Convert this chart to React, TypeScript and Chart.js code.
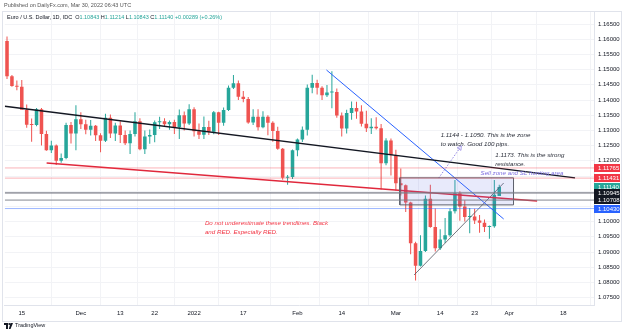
import React, { useEffect, useRef } from 'react';
import { Chart, registerables } from 'chart.js';

Chart.register(...registerables);

const FONT = '"Liberation Sans", Arial, Helvetica, sans-serif';
const UP = '#26a69a';
const DOWN = '#ef5350';

// EUR/USD daily sessions from 10 Nov 2021 to 30 Mar 2022; x = session number
const opens = [
  1.1594, 1.1478, 1.1446, 1.1444, 1.1368, 1.1319, 1.1318, 1.1370, 1.1288, 1.1235,
  1.1250, 1.1200, 1.1209, 1.1318, 1.1290, 1.1337, 1.1320, 1.1302, 1.1315, 1.1284,
  1.1266, 1.1342, 1.1290, 1.1316, 1.1285, 1.1258, 1.1288, 1.1330, 1.1238, 1.1280,
  1.1285, 1.1327, 1.1330, 1.1320, 1.1328, 1.1310, 1.1350, 1.1323, 1.1370, 1.1297,
  1.1286, 1.1311, 1.1296, 1.1360, 1.1325, 1.1367, 1.1440, 1.1455, 1.1411, 1.1403,
  1.1326, 1.1345, 1.1310, 1.1345, 1.1325, 1.1298, 1.1240, 1.1144, 1.1147, 1.1235,
  1.1270, 1.1302, 1.1440, 1.1456, 1.1440, 1.1416, 1.1425, 1.1426, 1.1349, 1.1306,
  1.1357, 1.1374, 1.1362, 1.1322, 1.1307, 1.1312, 1.1307, 1.1192, 1.1267, 1.1219,
  1.1126, 1.1120, 1.1063, 1.0929, 1.0855, 1.0903, 1.1075, 1.0982, 1.0912, 1.0941,
  1.0955, 1.1034, 1.1093, 1.1050, 1.1015, 1.1017, 1.1004, 1.0996, 1.0982, 1.0985,
  1.10843,
];
const highs = [
  1.1609, 1.1482, 1.1464, 1.1466, 1.1385, 1.1339, 1.1374, 1.1374, 1.1299, 1.1266,
  1.1254, 1.1224, 1.1325, 1.1328, 1.1383, 1.1360, 1.1335, 1.1334, 1.1318, 1.1291,
  1.1355, 1.1352, 1.1325, 1.1330, 1.1300, 1.1300, 1.1360, 1.1340, 1.1300, 1.1303,
  1.1333, 1.1345, 1.1340, 1.1333, 1.1335, 1.1369, 1.1362, 1.1386, 1.1376, 1.1323,
  1.1346, 1.1332, 1.1364, 1.1361, 1.1375, 1.1448, 1.1482, 1.1464, 1.1430, 1.1410,
  1.1370, 1.1370, 1.1363, 1.1350, 1.1330, 1.1312, 1.1242, 1.1153, 1.1237, 1.1273,
  1.1313, 1.1451, 1.1483, 1.1467, 1.1445, 1.1449, 1.1495, 1.1438, 1.1359, 1.1368,
  1.1395, 1.1394, 1.1383, 1.1365, 1.1340, 1.1343, 1.1321, 1.1274, 1.1273, 1.1236,
  1.1175, 1.1122, 1.1065, 1.0934, 1.0955, 1.1086, 1.1121, 1.1043, 1.0975, 1.1012,
  1.1043, 1.1137, 1.1100, 1.1070, 1.1045, 1.1042, 1.1022, 1.1007, 1.0987, 1.1137,
  1.11214,
];
const lows = [
  1.1469, 1.1444, 1.1432, 1.1372, 1.1309, 1.1263, 1.1314, 1.1250, 1.1233, 1.1226,
  1.1186, 1.1194, 1.1205, 1.1257, 1.1235, 1.1305, 1.1287, 1.1283, 1.1265, 1.1228,
  1.1262, 1.1275, 1.1265, 1.1259, 1.1252, 1.1222, 1.1280, 1.1235, 1.1222, 1.1256,
  1.1261, 1.1305, 1.1314, 1.1302, 1.1288, 1.1272, 1.1300, 1.1318, 1.1280, 1.1272,
  1.1272, 1.1285, 1.1287, 1.1285, 1.1315, 1.1364, 1.1436, 1.1400, 1.1393, 1.1322,
  1.1318, 1.1300, 1.1307, 1.1284, 1.1263, 1.1236, 1.1138, 1.1121, 1.1140, 1.1215,
  1.1262, 1.1283, 1.1422, 1.1418, 1.1400, 1.1410, 1.1373, 1.1342, 1.1280, 1.1290,
  1.1335, 1.1338, 1.1313, 1.1295, 1.1288, 1.1303, 1.1106, 1.1185, 1.1152, 1.1102,
  1.1086, 1.1032, 1.0893, 1.0806, 1.0852, 1.0900, 1.0980, 1.0902, 1.0907, 1.0930,
  1.0950, 1.1027, 1.1003, 1.1000, 1.0962, 1.0992, 1.0963, 1.0966, 1.0944, 1.0980,
  1.10843,
];
const closes = [
  1.1478, 1.1446, 1.1444, 1.1368, 1.1319, 1.1318, 1.1370, 1.1288, 1.1235, 1.1250,
  1.1200, 1.1209, 1.1318, 1.1290, 1.1337, 1.1320, 1.1302, 1.1315, 1.1284, 1.1266,
  1.1342, 1.1290, 1.1316, 1.1285, 1.1258, 1.1288, 1.1330, 1.1238, 1.1280, 1.1285,
  1.1327, 1.1330, 1.1320, 1.1328, 1.1310, 1.1350, 1.1323, 1.1370, 1.1297, 1.1286,
  1.1311, 1.1296, 1.1360, 1.1325, 1.1367, 1.1440, 1.1455, 1.1411, 1.1403, 1.1326,
  1.1345, 1.1310, 1.1345, 1.1325, 1.1298, 1.1240, 1.1144, 1.1147, 1.1235, 1.1270,
  1.1302, 1.1440, 1.1456, 1.1440, 1.1416, 1.1425, 1.1426, 1.1349, 1.1306, 1.1357,
  1.1374, 1.1362, 1.1322, 1.1307, 1.1312, 1.1307, 1.1192, 1.1267, 1.1219, 1.1126,
  1.1120, 1.1063, 1.0929, 1.0855, 1.0903, 1.1075, 1.0982, 1.0912, 1.0941, 1.0955,
  1.1034, 1.1093, 1.1050, 1.1015, 1.1017, 1.1004, 1.0996, 1.0982, 1.0985, 1.1088,
  1.11140,
];

// Time axis: session numbers and their labels (future sessions continue the count)
const timeTickIndex = [3, 15, 23, 30, 38, 48, 59, 68, 79, 88, 95, 102, 113];
const timeTickText = ['15', 'Dec', '13', '22', '2022', '17', 'Feb', '14', 'Mar', '14', '23', 'Apr', '18'];

// Price axis ticks
const priceTicks = [
  1.075, 1.08, 1.085, 1.09, 1.095, 1.1, 1.105, 1.11, 1.115, 1.12,
  1.125, 1.13, 1.135, 1.14, 1.145, 1.15, 1.155, 1.16, 1.165,
];

// Horizontal price levels with their axis labels
const levelPrices = [1.11765, 1.11431, 1.10945, 1.10708, 1.1043];
const levelColors = ['rgba(242,54,69,0.38)', 'rgba(242,54,69,0.38)', 'rgba(120,123,134,0.7)', 'rgba(120,123,134,0.9)', 'rgba(41,98,255,0.45)'];
const levelWidths = [1, 1, 1.6, 1, 1];
const markerPrices = [1.11765, 1.11431, 1.1114, 1.10945, 1.10708, 1.1043];
const markerColors = ['#f23645', '#f23645', '#26a69a', '#131722', '#131722', '#2962ff'];

// Drawn trendlines: [session, price] end points
const blackTrend = [[-0.45, 1.13794], [115.4, 1.11438]];
const redTrend = [[8.05, 1.11928], [107.7, 1.10678]];
const blueTrend = [[64.9, 1.14987], [100.9, 1.10086]];
const risingTrend = [[82.7, 1.08244], [100.9, 1.1127]];
const arrowPath = [[87.7, 1.11434], [92.0, 1.12421]];

// Watch zone: sessions and price bounds
const zoneSessions = [79.8, 102.9];
const zonePrices = [1.1055, 1.1144];

const X_MIN = -0.45;
const X_MAX = 119.25;
const Y_MIN = 1.07257;
const Y_MAX = 1.16928;

type Note = { text: string; at: [number, number]; color: string };
const notes: Note[] = [
  { text: '1.1144 - 1.1050. This is the zone', at: [88.1, 1.12849], color: '#2a2e39' },
  { text: 'to watch. Good 100 pips.', at: [88.1, 1.12555], color: '#2a2e39' },
  { text: '1.1173. This is the strong', at: [99.2, 1.12191], color: '#2a2e39' },
  { text: 'resistance.', at: [99.2, 1.11895], color: '#2a2e39' },
  { text: 'Sell zone and SL hunting area', at: [96.2, 1.11582], color: '#7e6fe0' },
  { text: 'Do not underestimate these trendlines. Black', at: [40.2, 1.09954], color: '#f23645' },
  { text: 'and RED. Especially RED.', at: [40.2, 1.09658], color: '#f23645' },
];

const toPoints = (pts: number[][]) => pts.map(([x, y]) => ({ x, y }));

const framePlugin = {
  id: 'frame',
  beforeDraw(chart: any) {
    const { ctx, width, height } = chart;
    ctx.save();
    ctx.fillStyle = '#ffffff';
    ctx.fillRect(0, 0, width, height);
    ctx.restore();
  },
  afterDraw(chart: any) {
    const { ctx, chartArea, scales } = chart;
    const y = scales.y;
    const x = scales.x;
    ctx.save();
    // price markers on the axis
    ctx.font = `6px ${FONT}`;
    ctx.textBaseline = 'middle';
    markerPrices.forEach((p, i) => {
      const py = y.getPixelForValue(p);
      ctx.fillStyle = markerColors[i];
      ctx.fillRect(chartArea.right, Math.round(py) - 4, 26, 8);
      ctx.fillStyle = '#ffffff';
      ctx.fillText(p.toFixed(5), chartArea.right + 4, Math.round(py));
    });
    // outer frame
    ctx.strokeStyle = '#e0e3eb';
    ctx.lineWidth = 1;
    ctx.strokeRect(2.5, chartArea.top + 0.5, y.right - 2, x.bottom - chartArea.top);
    ctx.restore();
  },
};

const notesPlugin = {
  id: 'notes',
  afterDatasetsDraw(chart: any) {
    const { ctx, scales } = chart;
    ctx.save();
    ctx.textBaseline = 'middle';
    ctx.font = `italic 6.2px ${FONT}`;
    for (const n of notes) {
      ctx.fillStyle = n.color;
      ctx.fillText(n.text, scales.x.getPixelForValue(n.at[0]), scales.y.getPixelForValue(n.at[1]));
    }
    ctx.restore();
  },
};

function CandleChart() {
  const ref = useRef<HTMLCanvasElement | null>(null);

  useEffect(() => {
    if (!ref.current) return;
    const colors = closes.map((c, i) => (c >= opens[i] ? UP : DOWN));

    const lineSet = (pts: number[][], color: string, width: number, extra: any = {}) => ({
      type: 'line' as const,
      data: toPoints(pts),
      borderColor: color,
      borderWidth: width,
      pointRadius: 0,
      tension: 0,
      fill: false,
      order: 1,
      ...extra,
    });

    const datasets: any[] = [
      {
        type: 'bar',
        data: opens.map((o, i) => ({ x: i, y: [lows[i], highs[i]] })),
        backgroundColor: colors,
        grouped: false,
        maxBarThickness: 1,
        order: 6,
      },
      {
        type: 'bar',
        data: opens.map((o, i) => ({ x: i, y: [o, closes[i]] })),
        backgroundColor: colors,
        grouped: false,
        maxBarThickness: 4,
        minBarLength: 1,
        order: 5,
      },
      ...levelPrices.map((p, i) =>
        lineSet([[X_MIN, p], [X_MAX, p]], levelColors[i], levelWidths[i])
      ),
      lineSet(
        [
          [zoneSessions[0], zonePrices[0]],
          [zoneSessions[1], zonePrices[0]],
          [zoneSessions[1], zonePrices[1]],
          [zoneSessions[0], zonePrices[1]],
          [zoneSessions[0], zonePrices[0]],
        ],
        '#5d606b',
        1,
        { fill: 'shape', backgroundColor: 'rgba(98,114,230,0.15)' }
      ),
      lineSet(blackTrend, '#131722', 1.4),
      lineSet(redTrend, '#e0283c', 1.4),
      lineSet(blueTrend, '#2962ff', 1),
      lineSet(risingTrend, '#50535e', 0.8),
      lineSet(arrowPath, '#9487e6', 1, {
        borderDash: [1.5, 1.5],
        pointRadius: [0, 2.6],
        pointStyle: 'triangle',
        rotation: 35,
        pointBorderColor: '#9487e6',
        pointBackgroundColor: 'rgba(0,0,0,0)',
        pointBorderWidth: 0.8,
      }),
    ];

    const chart = new Chart(ref.current, {
      type: 'bar',
      data: { datasets },
      options: {
        animation: false,
        responsive: false,
        events: [],
        layout: { padding: { left: 2, top: 11, right: 4, bottom: 10 } },
        plugins: { legend: { display: false }, tooltip: { enabled: false } },
        scales: {
          x: {
            type: 'linear',
            min: X_MIN,
            max: X_MAX,
            offset: false,
            afterBuildTicks: (scale: any) => {
              scale.ticks = timeTickIndex.map((v) => ({ value: v }));
            },
            afterFit: (scale: any) => {
              scale.height = 16;
            },
            ticks: {
              autoSkip: false,
              maxRotation: 0,
              padding: 5,
              color: '#131722',
              font: { family: FONT, size: 6 },
              callback: (_v: any, i: number) => timeTickText[i] ?? '',
            },
            grid: { color: '#f2f3f6', drawTicks: false },
            border: { color: '#e0e3eb' },
          },
          y: {
            type: 'linear',
            position: 'right',
            min: Y_MIN,
            max: Y_MAX,
            afterBuildTicks: (scale: any) => {
              scale.ticks = priceTicks.map((v) => ({ value: v }));
            },
            afterFit: (scale: any) => {
              scale.width = 27;
            },
            ticks: {
              padding: 4,
              color: '#131722',
              font: { family: FONT, size: 6 },
              callback: (_v: any, i: number) => {
                const v = priceTicks[i];
                const covered = markerPrices.some((m) => Math.abs(m - v) < 0.0018);
                return covered ? '' : v.toFixed(5);
              },
            },
            grid: { color: '#f2f3f6', drawTicks: false },
            border: { color: '#e0e3eb' },
          },
        },
      } as any,
      plugins: [framePlugin, notesPlugin],
    });
    return () => chart.destroy();
  }, []);

  return <canvas ref={ref} width={625} height={331} style={{ position: 'absolute', left: 0, top: 0 }} />;
}

export default function App() {
  useEffect(() => {
    document.body.style.margin = '0';
  }, []);

  const val = { color: '#26a69a' };
  return (
    <div style={{ position: 'relative', width: 625, height: 331, background: '#fff', fontFamily: FONT, overflow: 'hidden' }}>
      <CandleChart />
      <div style={{ position: 'absolute', left: 4, top: 2, fontSize: 5.5, lineHeight: '7px', color: '#555', whiteSpace: 'nowrap' }}>
        Published on DailyFx.com, Mar 30, 2022 06:43 UTC
      </div>
      <div style={{ position: 'absolute', left: 7, top: 14, fontSize: 5.5, lineHeight: '7px', color: '#131722', whiteSpace: 'nowrap' }}>
        Euro / U.S. Dollar, 1D, IDC&nbsp;&nbsp;O<span style={val}>1.10843</span>&nbsp;H<span style={val}>1.11214</span>
        &nbsp;L<span style={val}>1.10843</span>&nbsp;C<span style={val}>1.11140</span>&nbsp;<span style={val}>+0.00289 (+0.26%)</span>
      </div>
      <div style={{ position: 'absolute', left: 4, top: 322, display: 'flex', alignItems: 'center', gap: 2 }}>
        <svg width="9" height="6" viewBox="0 0 9 6">
          <rect x="0" y="0" width="4" height="2" fill="#131722" />
          <rect x="2" y="0" width="2" height="6" fill="#131722" />
          <circle cx="5.3" cy="1" r="1" fill="#131722" />
          <polygon points="6.5,0 9,0 6.5,6 4.8,6" fill="#131722" />
        </svg>
        <span style={{ fontSize: 5.5, lineHeight: '7px', color: '#131722' }}>TradingView</span>
      </div>
    </div>
  );
}
